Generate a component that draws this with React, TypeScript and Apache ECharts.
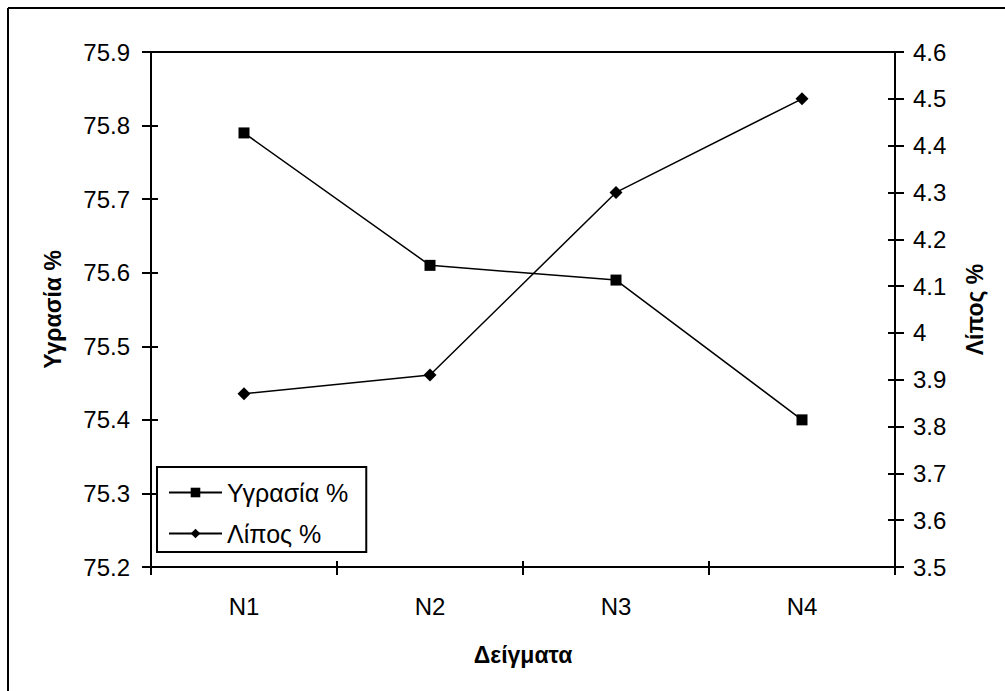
import React, { useEffect, useRef } from "react";
import * as echarts from "echarts";

// Samples and measured values
const categories = ["N1", "N2", "N3", "N4"];
const moisture = [75.79, 75.61, 75.59, 75.4]; // Υγρασία %
const fat = [3.87, 3.91, 4.3, 4.5]; // Λίπος %

const moistureAxis = { min: 75.2, max: 75.9, interval: 0.1 };
const fatAxis = { min: 3.5, max: 4.6, interval: 0.1 };

const FONT = "'Liberation Sans', Arial, sans-serif";
const BLACK = "#000";

export default function App() {
  const ref = useRef<HTMLDivElement | null>(null);

  useEffect(() => {
    if (!ref.current) return;
    const chart = echarts.init(ref.current, undefined, { renderer: "svg" });

    const axisLine = { show: true, lineStyle: { color: BLACK, width: 2 } };
    const tickStyle = { color: BLACK, width: 2 };
    const labelStyle = { color: BLACK, fontSize: 24, fontFamily: FONT };
    const nameStyle = { color: BLACK, fontSize: 23, fontWeight: "bold" as const, fontFamily: FONT };

    chart.setOption({
      animation: false,
      backgroundColor: "#fff",
      textStyle: { fontFamily: FONT },
      grid: {
        left: 151,
        right: 110,
        top: 52,
        bottom: 124,
        show: true,
        borderColor: BLACK,
        borderWidth: 2,
        backgroundColor: "transparent",
      },
      legend: {
        orient: "vertical",
        left: 157,
        top: 467,
        itemWidth: 53,
        itemHeight: 12,
        itemGap: 16,
        padding: [13, 18, 6, 11],
        borderColor: BLACK,
        borderWidth: 2,
        backgroundColor: "#fff",
        textStyle: { color: BLACK, fontSize: 25, lineHeight: 24, fontFamily: FONT },
        data: ["Υγρασία %", "Λίπος %"],
      },
      xAxis: [
        {
          type: "category",
          data: categories,
          position: "bottom",
          boundaryGap: true,
          axisLine,
          axisTick: { show: true, length: 8, lineStyle: tickStyle },
          axisLabel: { ...labelStyle, margin: 27 },
          splitLine: { show: false },
          name: "Δείγματα",
          nameLocation: "middle",
          nameGap: 76,
          nameTextStyle: nameStyle,
        },
        {
          type: "category",
          data: categories,
          position: "bottom",
          boundaryGap: true,
          axisLine: { show: false },
          axisTick: { show: true, inside: true, length: 6, lineStyle: tickStyle },
          axisLabel: { show: false },
          splitLine: { show: false },
        },
      ],
      yAxis: [
        {
          type: "value",
          position: "left",
          ...moistureAxis,
          axisLine,
          axisTick: { show: true, length: 9, lineStyle: tickStyle },
          axisLabel: { ...labelStyle, margin: 21 },
          splitLine: { show: false },
          name: "Υγρασία %",
          nameLocation: "middle",
          nameRotate: 90,
          nameGap: 87,
          nameTextStyle: nameStyle,
        },
        {
          type: "value",
          position: "left",
          ...moistureAxis,
          axisLine: { show: false },
          axisTick: { show: true, inside: true, length: 7, lineStyle: tickStyle },
          axisLabel: { show: false },
          splitLine: { show: false },
        },
        {
          type: "value",
          position: "right",
          ...fatAxis,
          axisLine,
          axisTick: { show: true, length: 9, lineStyle: tickStyle },
          axisLabel: { ...labelStyle, margin: 18 },
          splitLine: { show: false },
          name: "Λίπος %",
          nameLocation: "middle",
          nameRotate: 90,
          nameGap: 68,
          nameTextStyle: nameStyle,
        },
        {
          type: "value",
          position: "right",
          ...fatAxis,
          axisLine: { show: false },
          axisTick: { show: true, inside: true, length: 7, lineStyle: tickStyle },
          axisLabel: { show: false },
          splitLine: { show: false },
        },
      ],
      series: [
        {
          name: "Υγρασία %",
          type: "line",
          xAxisIndex: 0,
          yAxisIndex: 0,
          data: moisture,
          symbol: "rect",
          symbolSize: 11,
          lineStyle: { color: BLACK, width: 1.5 },
          itemStyle: { color: BLACK },
        },
        {
          name: "Λίπος %",
          type: "line",
          xAxisIndex: 0,
          yAxisIndex: 2,
          data: fat,
          symbol: "diamond",
          symbolSize: 13,
          lineStyle: { color: BLACK, width: 1.5 },
          itemStyle: { color: BLACK },
        },
      ],
      graphic: [
        { type: "line", shape: { x1: 8, y1: 8, x2: 1005, y2: 8 }, style: { stroke: BLACK, lineWidth: 2 } },
        { type: "line", shape: { x1: 8, y1: 8, x2: 8, y2: 691 }, style: { stroke: BLACK, lineWidth: 2 } },
      ],
    });

    return () => chart.dispose();
  }, []);

  return (
    <div
      ref={ref}
      style={{ position: "fixed", left: 0, top: 0, width: 1005, height: 691, background: "#fff" }}
    />
  );
}
